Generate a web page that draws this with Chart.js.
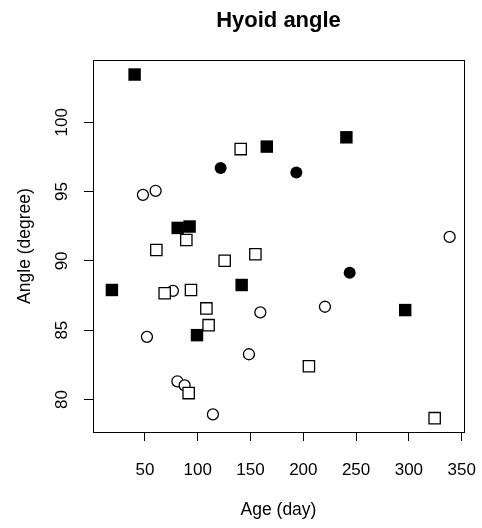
<!DOCTYPE html>
<html>
<head>
<meta charset="utf-8">
<script src="https://cdn.jsdelivr.net/npm/chart.js@4"></script>
<style>
  body { margin: 0; background: #fff; }
  canvas { display: block; }
</style>
</head>
<body>
<canvas id="hyoid" width="482" height="528"></canvas>
<script>
// valores (edad en dias, angulo en grados)
const filledSqAge = [40.2, 165.4, 240.8, 81.0, 92.3, 18.7, 141.6, 99.3, 296.5]
const filledSqAngle = [103.45, 98.25, 98.92, 92.38, 92.48, 87.9, 88.26, 84.64, 86.45]
const openSqAge = [140.7, 89.2, 60.8, 125.5, 154.6, 68.7, 93.6, 108.2, 110.3, 205.3, 91.4, 324.4]
const openSqAngle = [98.07, 91.51, 90.79, 90.01, 90.48, 87.66, 87.9, 86.57, 85.36, 82.4, 80.46, 78.65]
const openCircAge = [48.1, 60.1, 76.5, 159.3, 220.5, 51.9, 148.5, 80.7, 87.6, 114.4, 338.6]
const openCircAngle = [94.77, 95.06, 87.84, 86.28, 86.69, 84.52, 83.26, 81.31, 81.02, 78.92, 91.73]
const filledCircAge = [121.7, 193.4, 243.9]
const filledCircAngle = [96.7, 96.38, 89.15]

const xTicks = [50, 100, 150, 200, 250, 300, 350]
const yTicks = [80, 85, 90, 95, 100]

const font = '"Liberation Sans", Arial, Helvetica, sans-serif'

const toPoints = (xs, ys) => xs.map((x, i) => ({ x: x, y: ys[i] }))

// caja alrededor del area de dibujo, como en R
const boxPlugin = {
    id: 'box',
    afterDraw: chart => {
        const a = chart.chartArea
        const ctx = chart.ctx
        ctx.save()
        ctx.strokeStyle = '#000'
        ctx.lineWidth = 1
        ctx.strokeRect(Math.round(a.left) + 0.5, Math.round(a.top) + 0.5, Math.round(a.right - a.left), Math.round(a.bottom - a.top))
        ctx.restore()
    }
}

const scatterChart = id => {
    new Chart(id, {
        type: 'scatter',
        data: {
            datasets: [{
                label: 'filled square',
                data: toPoints(filledSqAge, filledSqAngle),
                pointStyle: 'rect',
                pointRadius: 8.8,
                backgroundColor: '#000',
                borderColor: '#000',
                borderWidth: 0
            }, {
                label: 'open square',
                data: toPoints(openSqAge, openSqAngle),
                pointStyle: 'rect',
                pointRadius: 8,
                backgroundColor: '#fff',
                borderColor: '#000',
                borderWidth: 1.3
            }, {
                label: 'open circle',
                data: toPoints(openCircAge, openCircAngle),
                pointStyle: 'circle',
                pointRadius: 5.5,
                backgroundColor: '#fff',
                borderColor: '#000',
                borderWidth: 1.3
            }, {
                label: 'filled circle',
                data: toPoints(filledCircAge, filledCircAngle),
                pointStyle: 'circle',
                pointRadius: 6,
                backgroundColor: '#000',
                borderColor: '#000',
                borderWidth: 0
            }]
        },
        options: {
            responsive: false,
            animation: false,
            devicePixelRatio: 1,
            layout: { padding: { right: 18 } },
            plugins: {
                legend: { display: false },
                tooltip: { enabled: false },
                title: {
                    display: true,
                    text: 'Hyoid angle',
                    fullSize: false,
                    color: '#000',
                    font: { family: font, size: 22, weight: 'bold' },
                    padding: { top: 8, bottom: 25.6 }
                }
            },
            scales: {
                x: {
                    type: 'linear',
                    min: 0.8,
                    max: 352.2,
                    afterFit: s => {
                        s.height = 96
                        s.paddingLeft = 0
                        s.paddingRight = 0
                    },
                    afterBuildTicks: s => { s.ticks = xTicks.map(v => ({ value: v })) },
                    grid: { display: true, drawOnChartArea: false, drawTicks: true, tickLength: 9, color: '#000' },
                    border: { display: false },
                    ticks: { color: '#000', font: { family: font, size: 17 }, padding: 19, maxRotation: 0 },
                    title: {
                        display: true,
                        text: 'Age (day)',
                        color: '#000',
                        font: { family: font, size: 17.5 },
                        padding: { top: 0, bottom: 7.5 }
                    }
                },
                y: {
                    type: 'linear',
                    min: 77.65,
                    max: 104.5,
                    afterFit: s => {
                        s.width = 93
                        s.paddingTop = 0
                        s.paddingBottom = 0
                    },
                    afterBuildTicks: s => { s.ticks = yTicks.map(v => ({ value: v })) },
                    grid: { display: true, drawOnChartArea: false, drawTicks: true, tickLength: 9, color: '#000' },
                    border: { display: false },
                    ticks: { color: '#000', font: { family: font, size: 17 }, padding: 8, minRotation: 90, maxRotation: 90, crossAlign: 'center' },
                    title: {
                        display: true,
                        text: 'Angle (degree)',
                        color: '#000',
                        font: { family: font, size: 17.5 },
                        padding: { top: 14.5, bottom: 0 }
                    }
                }
            }
        },
        plugins: [boxPlugin]
    })
}

scatterChart('hyoid')
</script>
</body>
</html>
